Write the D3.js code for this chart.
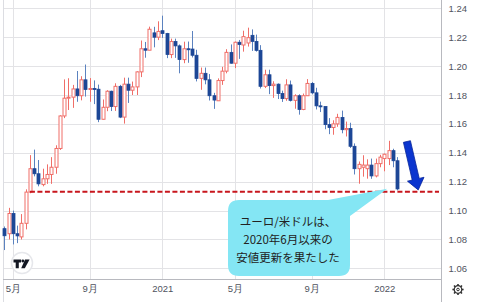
<!DOCTYPE html>
<html>
<head>
<meta charset="utf-8">
<script src="https://cdn.jsdelivr.net/npm/d3@7"></script>
<style>
  body { margin: 0; background: #fff; }
  svg { display: block; }
  .tick text { font-family: "Liberation Sans", Arial, sans-serif; font-size: 9.5px; fill: #50535e; }
</style>
</head>
<body>
<div id="chart"></div>
<script>
// weekly EUR/USD candles, week starting 2020-04-20
const weekStart = new Date(2020, 3, 20);
const weekEnd = new Date(2022, 0, 25);

const open = [1.0875,1.0840,1.0980,1.0840,1.0818,1.0912,1.1128,1.1290,1.1255,1.1180,
  1.1220,1.1250,1.1300,1.1430,1.1655,1.1778,1.1785,1.1842,1.1795,1.1905,
  1.1838,1.1845,1.1840,1.1632,1.1715,1.1826,1.1720,1.1860,1.1647,1.1875,
  1.1833,1.1856,1.1960,1.2120,1.2110,1.2230,1.2200,1.2245,1.2225,1.2080,
  1.2170,1.2140,1.2045,1.2120,1.2118,1.2075,1.1915,1.1950,1.1905,1.1795,
  1.1760,1.1900,1.1965,1.2095,1.2020,1.2165,1.2146,1.2160,1.2213,1.2171,
  1.2109,1.1860,1.1940,1.1865,1.1875,1.1810,1.1775,1.1870,1.1763,1.1795,
  1.1700,1.1795,1.1880,1.1815,1.1725,1.1720,1.1595,1.1575,1.1600,1.1645,
  1.1560,1.1568,1.1445,1.1290,1.1300,1.1290,1.1315,1.1240,1.1325,1.1360,
  1.1360,1.1415,1.1345];
const high = [1.0890,1.1019,1.1000,1.0896,1.0976,1.1147,1.1384,1.1422,1.1350,1.1290,
  1.1320,1.1370,1.1452,1.1660,1.1908,1.1916,1.1870,1.1966,1.1930,1.2011,
  1.1917,1.1901,1.1872,1.1769,1.1833,1.1830,1.1881,1.1870,1.1920,1.1920,
  1.1893,1.1964,1.2177,1.2167,1.2273,1.2272,1.2310,1.2349,1.2230,1.2190,
  1.2190,1.2150,1.2169,1.2170,1.2243,1.2113,1.1990,1.1990,1.1945,1.1815,
  1.1915,1.1995,1.2117,1.2150,1.2170,1.2181,1.2245,1.2266,1.2254,1.2218,
  1.2145,1.1975,1.1975,1.1895,1.1880,1.1830,1.1909,1.1900,1.1805,1.1805,
  1.1810,1.1910,1.1890,1.1850,1.1754,1.1720,1.1640,1.1625,1.1670,1.1692,
  1.1616,1.1608,1.1465,1.1340,1.1383,1.1355,1.1360,1.1360,1.1386,1.1395,
  1.1483,1.1428,1.1370];
const low = [1.0727,1.0800,1.0766,1.0775,1.0800,1.0870,1.1120,1.1237,1.1168,1.1168,
  1.1185,1.1185,1.1255,1.1420,1.1640,1.1696,1.1711,1.1753,1.1763,1.1789,
  1.1753,1.1737,1.1612,1.1630,1.1688,1.1689,1.1690,1.1640,1.1602,1.1745,
  1.1800,1.1800,1.1924,1.2058,1.2110,1.2130,1.2180,1.2195,1.2055,1.2055,
  1.2057,1.1950,1.2020,1.2023,1.2060,1.1894,1.1836,1.1874,1.1762,1.1704,
  1.1760,1.1870,1.1950,1.2017,1.1986,1.2050,1.2100,1.2135,1.2105,1.2100,
  1.1845,1.1848,1.1806,1.1780,1.1772,1.1752,1.1760,1.1755,1.1705,1.1664,
  1.1695,1.1795,1.1805,1.1700,1.1682,1.1563,1.1529,1.1525,1.1580,1.1535,
  1.1513,1.1433,1.1250,1.1186,1.1235,1.1221,1.1220,1.1230,1.1300,1.1272,
  1.1315,1.1300,1.1140];
const close = [1.0826,1.0980,1.0840,1.0825,1.0912,1.1128,1.1290,1.1255,1.1185,1.1220,
  1.1250,1.1300,1.1430,1.1655,1.1778,1.1785,1.1842,1.1795,1.1905,1.1838,
  1.1845,1.1840,1.1632,1.1715,1.1826,1.1720,1.1860,1.1647,1.1875,1.1833,
  1.1856,1.1960,1.2120,1.2110,1.2255,1.2200,1.2240,1.2225,1.2080,1.2170,
  1.2140,1.2045,1.2120,1.2115,1.2075,1.1915,1.1950,1.1905,1.1795,1.1765,
  1.1900,1.1965,1.2095,1.2020,1.2165,1.2150,1.2204,1.2197,1.2171,1.2109,
  1.1860,1.1940,1.1865,1.1875,1.1810,1.1775,1.1870,1.1763,1.1795,1.1700,
  1.1795,1.1880,1.1815,1.1725,1.1718,1.1595,1.1575,1.1600,1.1645,1.1560,
  1.1568,1.1445,1.1290,1.1320,1.1315,1.1315,1.1240,1.1325,1.1370,1.1390,
  1.1415,1.1345,1.1150];

const tickWeeks = ["2020-05-04","2020-09-07","2021-01-04","2021-05-03","2021-09-06","2022-01-03"];
const tickLabels = ["5月","9月","2021","5月","9月","2022"];
const priceTicks = [1.06,1.08,1.10,1.12,1.14,1.16,1.18,1.20,1.22,1.24];

const supportLevel = 1.1131;
const supportFrom = "2020-06-01";
const calloutLines = ["ユーロ/米ドルは、","2020年6月以来の","安値更新を果たした"];

const width = 477, height = 302;
const plotRight = 441.5, plotBottom = 279.5;

const fmt = d3.timeFormat("%Y-%m-%d");
const weeks = d3.timeMonday.range(weekStart, weekEnd).map(fmt);
const data = weeks.map((w, i) => ({i, w, o: open[i], h: high[i], l: low[i], c: close[i]}));

const x = d3.scaleLinear().domain([0, weeks.length - 1]).range([4.3, 397.1]);
const y = d3.scaleLinear().domain([1.06, 1.24]).range([268.4, 8.3]);

const svg = d3.select("#chart").append("svg")
    .attr("width", width)
    .attr("height", height);

// grid
svg.append("g")
    .selectAll("line")
    .data(priceTicks)
    .join("line")
    .attr("x1", 3).attr("x2", plotRight)
    .attr("y1", d => Math.round(y(d)) + 0.5).attr("y2", d => Math.round(y(d)) + 0.5)
    .attr("stroke", "#e3e3e6");

const tickIdx = tickWeeks.map(t => weeks.indexOf(t));
svg.append("g")
    .selectAll("line")
    .data(tickIdx)
    .join("line")
    .attr("x1", d => Math.round(x(d)) + 0.5).attr("x2", d => Math.round(x(d)) + 0.5)
    .attr("y1", 0).attr("y2", plotBottom)
    .attr("stroke", "#e3e3e6");

// frame
svg.append("line").attr("x1", 3.5).attr("x2", 3.5).attr("y1", 0).attr("y2", height)
    .attr("stroke", "#dcdde2");
svg.append("line").attr("x1", plotRight).attr("x2", plotRight).attr("y1", 0).attr("y2", height)
    .attr("stroke", "#b8b9bf");
svg.append("line").attr("x1", 3).attr("x2", plotRight).attr("y1", plotBottom).attr("y2", plotBottom)
    .attr("stroke", "#b8b9bf");

// axes
svg.append("g")
    .attr("transform", `translate(0,${plotBottom})`)
    .call(d3.axisBottom(x).tickValues(tickIdx).tickFormat((d, i) => tickLabels[i]).tickSize(0).tickPadding(6))
    .call(g => g.select(".domain").remove());

svg.append("g")
    .attr("transform", `translate(${plotRight},0)`)
    .call(d3.axisRight(y).tickValues(priceTicks).tickFormat(d3.format(".2f")).tickSize(0).tickPadding(7))
    .call(g => g.select(".domain").remove());

// candles
const up = "#f06e68", down = "#1d4796", downWick = "#5b82bf";
const candles = svg.append("g").selectAll("g").data(data).join("g");

candles.append("line")
    .attr("x1", d => Math.round(x(d.i)) + 0.5).attr("x2", d => Math.round(x(d.i)) + 0.5)
    .attr("y1", d => y(d.h)).attr("y2", d => y(d.l))
    .attr("stroke", d => d.c >= d.o ? up : downWick);

candles.append("rect")
    .attr("x", d => Math.round(x(d.i)) - 1)
    .attr("y", d => y(Math.max(d.o, d.c)))
    .attr("width", 3)
    .attr("height", d => Math.max(1, y(Math.min(d.o, d.c)) - y(Math.max(d.o, d.c))))
    .attr("fill", d => d.c >= d.o ? "#fff" : down)
    .attr("stroke", d => d.c >= d.o ? up : down)
    .attr("stroke-width", d => d.c >= d.o ? 1 : 0.8);

// support line
svg.append("line")
    .attr("x1", x(weeks.indexOf(supportFrom))).attr("x2", 439)
    .attr("y1", y(supportLevel)).attr("y2", y(supportLevel))
    .attr("stroke", "#c8161d")
    .attr("stroke-width", 2)
    .attr("stroke-dasharray", "5,2.5");

// arrow
const a0 = [x(94.3), y(1.1478)], a1 = [x(96.95), y(1.1143)];
const dx = a1[0] - a0[0], dy = a1[1] - a0[1], len = Math.hypot(dx, dy);
const ux = dx / len, uy = dy / len, px = -uy, py = ux;
const sw = 3.6, hw = 8.5, hl = 11;
const hb = [a1[0] - ux * hl, a1[1] - uy * hl];
const arrowPts = [
  [a0[0] + px * sw, a0[1] + py * sw],
  [hb[0] + px * sw, hb[1] + py * sw],
  [hb[0] + px * hw, hb[1] + py * hw],
  a1,
  [hb[0] - px * hw, hb[1] - py * hw],
  [hb[0] - px * sw, hb[1] - py * sw],
  [a0[0] - px * sw, a0[1] - py * sw]
];
svg.append("polygon")
    .attr("points", arrowPts.map(p => p.join(",")).join(" "))
    .attr("fill", "#0b35cf")
    .attr("stroke", "#06249a")
    .attr("stroke-width", 0.8);

// callout
const bx = 228, by = 200, bw = 122, bh = 76, r = 11;
const tip = [x(89.7), y(1.1152)];
svg.append("path")
    .attr("d", `M${bx + r},${by} H${bx + bw - 22} L${tip[0]},${tip[1]} L${bx + bw},${by + 16}
      V${by + bh - r} Q${bx + bw},${by + bh} ${bx + bw - r},${by + bh}
      H${bx + r} Q${bx},${by + bh} ${bx},${by + bh - r}
      V${by + r} Q${bx},${by} ${bx + r},${by} Z`)
    .attr("fill", "#84e6f4");

svg.append("g")
    .selectAll("text")
    .data(calloutLines)
    .join("text")
    .attr("x", bx + bw / 2 - 1)
    .attr("y", (d, i) => 225.5 + i * 18)
    .attr("text-anchor", "middle")
    .attr("font-family", "'Noto Sans CJK JP', sans-serif")
    .attr("font-size", 11.5)
    .attr("fill", "#222")
    .text(d => d);

// logo
const logo = svg.append("g").attr("transform", "translate(22,263)");
logo.append("circle").attr("r", 10.5).attr("fill", "#fff").attr("stroke", "#e6e7eb").attr("stroke-width", 1.5);
logo.append("path").attr("d", "M-8.5,-3.5 h7.5 v3 h-2.2 v5.8 h-3.1 v-5.8 h-2.2 z").attr("fill", "#131722");
logo.append("circle").attr("cx", 0.8).attr("cy", -2).attr("r", 1.4).attr("fill", "#131722");
logo.append("path").attr("d", "M3,-3.5 h4.6 l-4.8,8.8 h-3.6 z").attr("fill", "#131722");

// settings gear
const gear = svg.append("g").attr("transform", "translate(458,289.5)")
    .attr("stroke", "#303030").attr("fill", "none");
gear.append("circle").attr("r", 3.8).attr("stroke-width", 1.2);
gear.append("circle").attr("r", 1.3).attr("stroke-width", 1);
gear.selectAll("line").data(d3.range(8)).join("line")
    .attr("x1", d => 3.8 * Math.cos(d * Math.PI / 4)).attr("y1", d => 3.8 * Math.sin(d * Math.PI / 4))
    .attr("x2", d => 5.6 * Math.cos(d * Math.PI / 4)).attr("y2", d => 5.6 * Math.sin(d * Math.PI / 4))
    .attr("stroke-width", 1.6);
</script>
</body>
</html>
